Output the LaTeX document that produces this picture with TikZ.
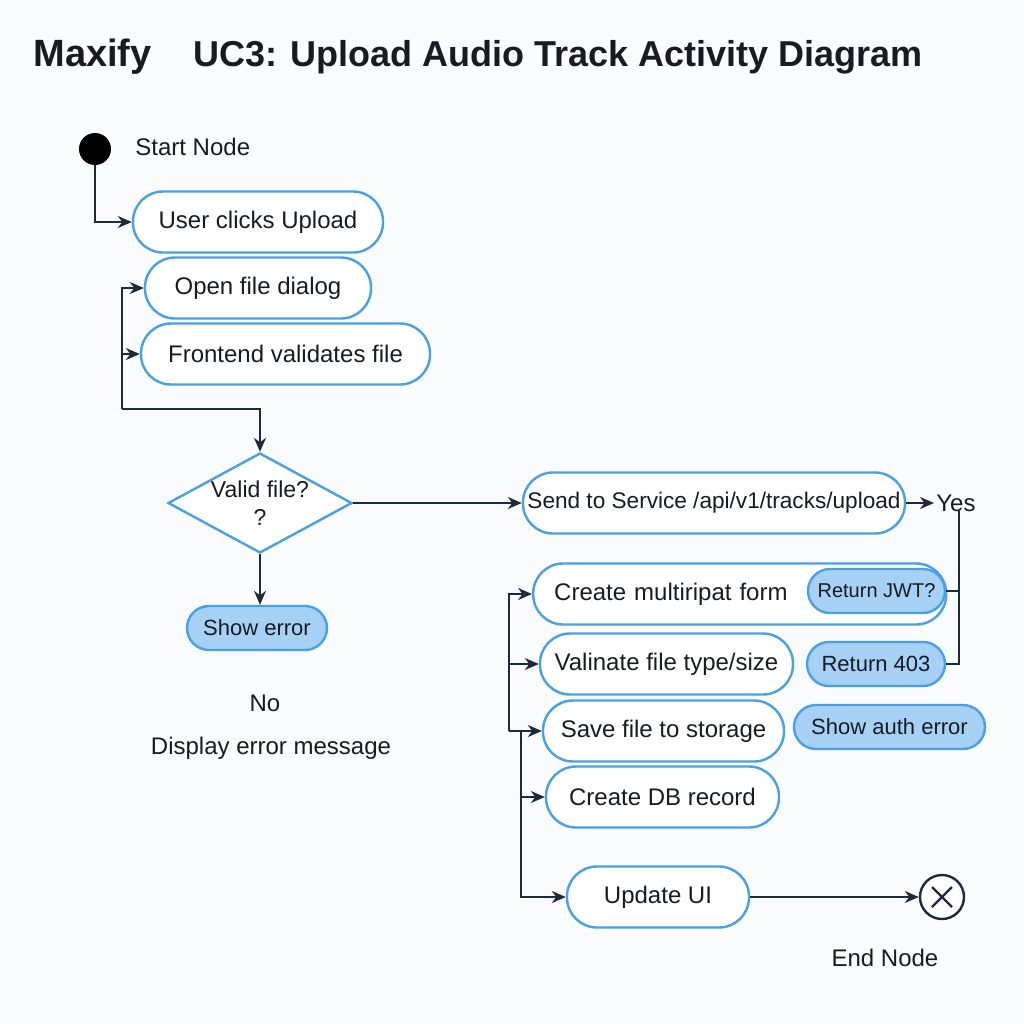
\documentclass[tikz,border=0pt]{standalone}
\usepackage{fontspec}
\setmainfont{Liberation Sans}
\usetikzlibrary{arrows.meta,shapes.geometric,positioning}
\definecolor{edgeblue}{RGB}{74,160,228}
\definecolor{pillfill}{RGB}{166,208,244}
\definecolor{linkcol}{RGB}{30,42,60}
\definecolor{inkcol}{RGB}{24,28,34}
\definecolor{paper}{RGB}{250,251,252}
\tikzset{
  act/.style={draw=edgeblue,line width=1.2pt,fill=white,rounded corners=15pt,
    minimum height=30.5pt,text=inkcol,font=\fontsize{12}{14}\selectfont},
  hint/.style={draw=edgeblue,line width=1.2pt,fill=pillfill,rounded corners=11pt,
    minimum height=22pt,text=inkcol,font=\fontsize{11}{13}\selectfont},
  lbl/.style={text=inkcol,font=\fontsize{12}{14}\selectfont},
  flow/.style={draw=linkcol,line width=1pt,-{Stealth[length=7pt,width=6pt]}},
  wire/.style={draw=linkcol,line width=1pt},
}

\begin{document}
\begin{tikzpicture}[x=0.5pt,y=-0.5pt]
\fill[paper] (0,0) rectangle (1024,1024);
\useasboundingbox (0,0) rectangle (1024,1024);

\node[lbl,font=\bfseries\fontsize{19}{22}\selectfont,anchor=base west,inner sep=0] (brand) at (33,66) {Maxify};
\node[lbl,font=\bfseries\fontsize{18}{22}\selectfont,anchor=base west,inner sep=0] (title) at (193,66) {UC3: Upload Audio Track Activity Diagram};

\node[circle,fill=black,minimum size=16pt,inner sep=0] (begin) at (95,149) {};
\node[lbl,anchor=west,inner sep=0] (begintxt) at (135,147) {Start Node};

\node[act,minimum width=125pt] (click) at (258,222) {User clicks Upload};
\node[act,minimum width=113pt] (dialog) at (258,288) {Open file dialog};
\node[act,minimum width=144.5pt] (fcheck) at (285.5,354) {Frontend validates file};

\node[diamond,draw=edgeblue,line width=1.2pt,fill=white,minimum width=92pt,minimum height=50pt,inner sep=0] (valid) at (260,503) {};
\node[lbl,align=center,font=\fontsize{11.5}{14}\selectfont] (validtxt) at (valid) {Valid file?\\?};

\node[hint,minimum width=70pt] (showerr) at (257,628) {Show error};
\node[lbl] (no) at (265,703) {No};
\node[lbl] (dispmsg) at (271,748) {Display error message};

\node[act,minimum width=191pt,inner xsep=2pt,font=\fontsize{11.3}{13}\selectfont] (send) at (714,503) {Send to Service /api/v1/tracks/upload};
\node[lbl,anchor=west,inner sep=1pt] (yes) at (934,503) {Yes};

\node[act,anchor=west,inner xsep=10.5pt,text width=185.5pt,align=left] (mform) at (532,594) {Create multiripat form};
\node[hint,minimum width=68.5pt,font=\fontsize{10}{12}\selectfont] (jwt) at (876.5,591) {Return JWT?};
\node[act,minimum width=126.5pt] (vtype) at (666.5,664) {Valinate file type/size};
\node[hint,minimum width=69pt] (r403) at (876,664) {Return 403};
\node[act,minimum width=120.5pt] (save) at (663.5,731) {Save file to storage};
\node[hint,minimum width=95.5pt] (autherr) at (889.5,727) {Show auth error};
\node[act,minimum width=116.5pt] (dbrec) at (662.5,797) {Create DB record};
\node[act,minimum width=91pt] (ui) at (658,897) {Update UI};

\node[circle,draw=linkcol,line width=1.2pt,fill=white,minimum size=22pt,inner sep=0,
  path picture={\draw[linkcol,line width=1.2pt]
    ([shift={(-5pt,-5pt)}]path picture bounding box.center) -- ([shift={(5pt,5pt)}]path picture bounding box.center)
    ([shift={(-5pt,5pt)}]path picture bounding box.center) -- ([shift={(5pt,-5pt)}]path picture bounding box.center);}] (stop) at (942,897) {};
\node[lbl] (stoptxt) at (885,958) {End Node};

\coordinate (lb) at (122,409);
\coordinate (yk) at (959,511);
\coordinate (busA) at (509,731);
\coordinate (busB) at (521,731);

\draw[flow] (begin.south) |- (click.west);
\draw[flow] (lb) |- (dialog.west);
\draw[flow] (lb) |- (fcheck.west);
\draw[flow] (lb) -| (valid.north);
\draw[flow] (valid.south) -- (valid.south |- showerr.north);
\draw[flow] (valid.east) -- (send.west);
\draw[flow] (send.east) -- (yes.west);
\draw[wire] (yk) |- (r403.east);
\draw[wire] (yk |- jwt.east) -- (jwt.east);
\draw[flow] (busA) |- (mform.west);
\draw[flow] (busA) |- (vtype.west);
\draw[flow] (busA) -- (save.west);
\draw[flow] (busB) |- (dbrec.west);
\draw[flow] (busB) |- (ui.west);
\draw[flow] (ui.east) -- (stop.west);

\end{tikzpicture}
\end{document}
